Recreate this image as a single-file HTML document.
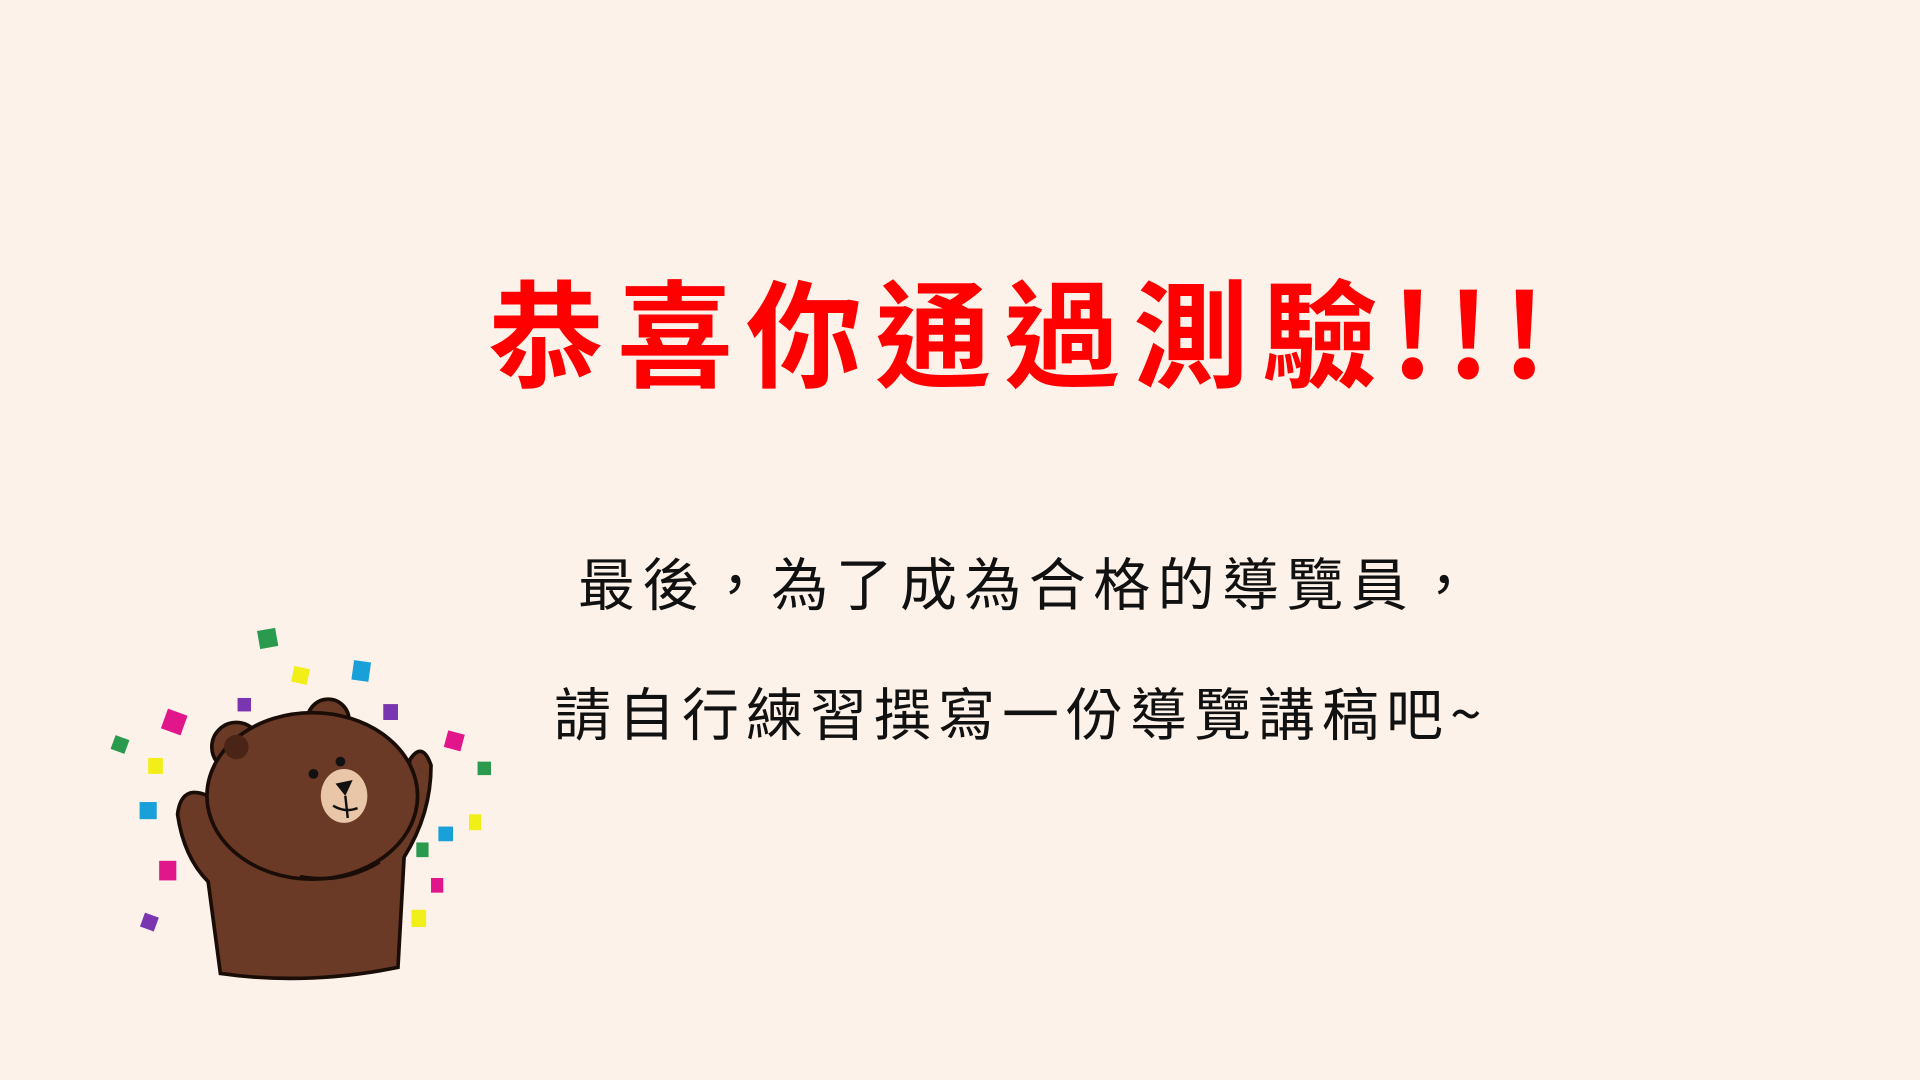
<!DOCTYPE html>
<html><head><meta charset="utf-8"><style>
html,body{margin:0;padding:0;}
body{width:1920px;height:1080px;background:#fdf2ea;position:relative;overflow:hidden;font-family:"Liberation Sans","Noto Sans CJK TC",sans-serif;}
.t{position:absolute;white-space:nowrap;}
#title{left:488px;top:258px;font-size:116px;line-height:140px;font-weight:bold;color:#ff0000;letter-spacing:13px;font-family:"Noto Sans CJK TC",sans-serif;}
.sub{font-size:57px;line-height:70px;color:#111;font-family:"Noto Sans CJK TC",sans-serif;}
#l1{left:578px;top:546px;letter-spacing:7.4px;}
#l2{left:554px;top:676px;letter-spacing:7px;}
</style></head><body>
<div class="t" id="title">恭喜你通過測驗!!!</div>
<div class="t sub" id="l1">最後，為了成為合格的導覽員，</div>
<div class="t sub" id="l2">請自行練習撰寫一份導覽講稿吧~</div>
<svg width="1920" height="1080" style="position:absolute;left:0;top:0" viewBox="0 0 1920 1080">
<g transform="scale(1.2245)">
<g>
<rect x="211" y="514" width="15" height="15" fill="#2a9a4e" transform="rotate(-10 218 521)"/>
<rect x="239" y="545" width="13" height="13" fill="#f2ee18" transform="rotate(12 245 551)"/>
<rect x="288" y="540" width="14" height="16" fill="#1aa0d8" transform="rotate(8 295 548)"/>
<rect x="194" y="570" width="11" height="11" fill="#7a35b0"/>
<rect x="313" y="575" width="12" height="13" fill="#7a35b0"/>
<rect x="134" y="581" width="17" height="17" fill="#e0168a" transform="rotate(20 142 589)"/>
<rect x="92" y="602" width="12" height="12" fill="#2a9a4e" transform="rotate(20 98 608)"/>
<rect x="121" y="619" width="12" height="13" fill="#f2ee18"/>
<rect x="114" y="655" width="14" height="14" fill="#1aa0d8"/>
<rect x="364" y="598" width="14" height="14" fill="#e0168a" transform="rotate(15 371 605)"/>
<rect x="390" y="622" width="11" height="11" fill="#2a9a4e"/>
<rect x="383" y="665" width="10" height="13" fill="#f2ee18"/>
<rect x="358" y="675" width="12" height="12" fill="#1aa0d8"/>
<rect x="340" y="688" width="10" height="12" fill="#2a9a4e"/>
<rect x="130" y="703" width="14" height="16" fill="#e0168a"/>
<rect x="352" y="717" width="10" height="12" fill="#e0168a"/>
<rect x="116" y="747" width="12" height="12" fill="#7a35b0" transform="rotate(20 122 753)"/>
<rect x="336" y="743" width="12" height="14" fill="#f2ee18"/>
</g>
<g stroke="#1a0d08" stroke-width="3" fill="#6b3a26">
<path d="M180 795 L170 720 Q150 700 145 665 Q148 640 170 650 L195 690 L215 700 L300 700 L320 690 L335 620 Q345 605 352 625 Q352 665 330 700 L325 790 Q250 805 180 795 Z"/>
<circle cx="193" cy="610" r="20"/>
<circle cx="268" cy="588" r="17"/>
<ellipse cx="255" cy="650" rx="86" ry="68"/>
</g>
<circle cx="193" cy="610" r="10" fill="#4a2416"/>
<ellipse cx="281" cy="650" rx="19" ry="22" fill="#e9c6a8"/>
<circle cx="256" cy="632" r="4" fill="#111"/>
<circle cx="278" cy="622" r="4" fill="#111"/>
<path d="M274 640 L288 637 L282 650 Z" fill="#111"/>
<path d="M282 650 L284 668 M272 658 Q282 664 292 660" stroke="#111" stroke-width="2" fill="none"/>
<path d="M245 716 Q280 722 310 704" stroke="#1a0d08" stroke-width="3" fill="none"/>
</g>
</svg>
</body></html>
